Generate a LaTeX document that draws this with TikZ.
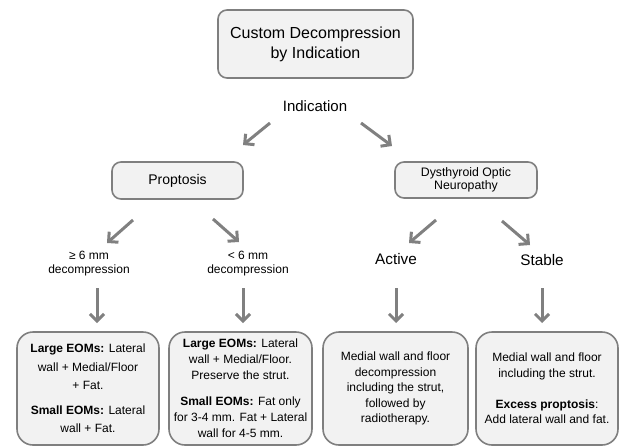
\documentclass[tikz,border=0pt]{standalone}
\usepackage{fontspec}
\setmainfont{Liberation Sans}
\usetikzlibrary{arrows.meta}
\definecolor{boxfill}{HTML}{F2F2F2}
\definecolor{boxline}{HTML}{7F7F7F}
\definecolor{arrowgray}{HTML}{808080}
\tikzset{
  roundbox/.style={draw=boxline, fill=boxfill, line width=1.6pt, rounded corners=9pt, align=center, inner sep=0pt},
  bigbox/.style={draw=boxline, fill=boxfill, line width=1.6pt, rounded corners=16pt, align=center, inner sep=0pt,
    minimum height=113pt, font=\fontsize{12}{15.5}\selectfont},
  label/.style={align=center, inner sep=0pt},
  flowarrow/.style={draw=arrowgray, line width=3pt, -{Straight Barb[length=7pt,width=14pt,line width=3pt]}}
}
\begin{document}
\begin{tikzpicture}[x=1pt,y=-1pt]
\useasboundingbox (0,0) rectangle (620,447);
% top
\node[roundbox, minimum width=195pt, minimum height=68pt, font=\fontsize{16}{20}\selectfont] (top) at (315.5,44) {Custom Decompression\\by Indication};
\node[label, font=\fontsize{15}{18}\selectfont] (ind) at (315,106) {Indication};
% level 2
\node[roundbox, minimum width=131pt, minimum height=37pt, font=\fontsize{14}{17}\selectfont] (prop) at (177.5,180.5) {Proptosis};
\node[roundbox, minimum width=142pt, minimum height=36pt, font=\fontsize{12.3}{13.5}\selectfont] (don) at (466,180) {Dysthyroid Optic\\Neuropathy};
% level 3
\node[label, font=\fontsize{12}{14}\selectfont] (ge) at (89,264) {≥ 6 mm\\decompression};
\node[label, font=\fontsize{12}{14}\selectfont] (lt) at (248,264) {< 6 mm\\decompression};
\node[label, font=\fontsize{15.3}{18}\selectfont] (act) at (396,259) {Active};
\node[label, font=\fontsize{15.3}{18}\selectfont] (stab) at (542,260) {Stable};
% bottom boxes
\node[bigbox, minimum width=142pt, font=\fontsize{12}{18.5}\selectfont] (b1) at (88,388.5)
  {\textbf{Large EOMs:} Lateral\\wall + Medial/Floor\\+ Fat.\\[6pt]\textbf{Small EOMs:} Lateral\\wall + Fat.};
\node[bigbox, minimum width=143pt, font=\fontsize{12}{16}\selectfont] (b2) at (240.5,388.5)
  {\textbf{Large EOMs:} Lateral\\wall + Medial/Floor.\\Preserve the strut.\\[10pt]\textbf{Small EOMs:} Fat only\\for 3-4 mm. Fat + Lateral\\wall for 4-5 mm.};
\node[bigbox, minimum width=145pt] (b3) at (395.5,388.5)
  {Medial wall and floor\\decompression\\including the strut,\\followed by\\radiotherapy.};
\node[bigbox, minimum width=142pt] (b4) at (547,388.5)
  {Medial wall and floor\\including the strut.\\[15.5pt]\textbf{Excess proptosis}:\\Add lateral wall and fat.};
% arrow end points
\coordinate (a1s) at (270,123); \coordinate (a1e) at (243,145);
\coordinate (a2s) at (361,123); \coordinate (a2e) at (392,146);
\coordinate (a3s) at (133,220); \coordinate (a3e) at (107,243);
\coordinate (a4s) at (213,219); \coordinate (a4e) at (239,242);
\coordinate (a5s) at (436,220); \coordinate (a5e) at (409,243);
\coordinate (a6s) at (502,221); \coordinate (a6e) at (530,245);
\coordinate (d1s) at (97,288); \coordinate (d1e) at (97,323);
\coordinate (d2s) at (243,288); \coordinate (d2e) at (243,323);
\coordinate (d3s) at (396,288); \coordinate (d3e) at (396,323);
\coordinate (d4s) at (542,288); \coordinate (d4e) at (542,323);
\foreach \a in {a1,a2,a3,a4,a5,a6,d1,d2,d3,d4}
  \draw[flowarrow] (\a s) -- (\a e);
\end{tikzpicture}
\end{document}
